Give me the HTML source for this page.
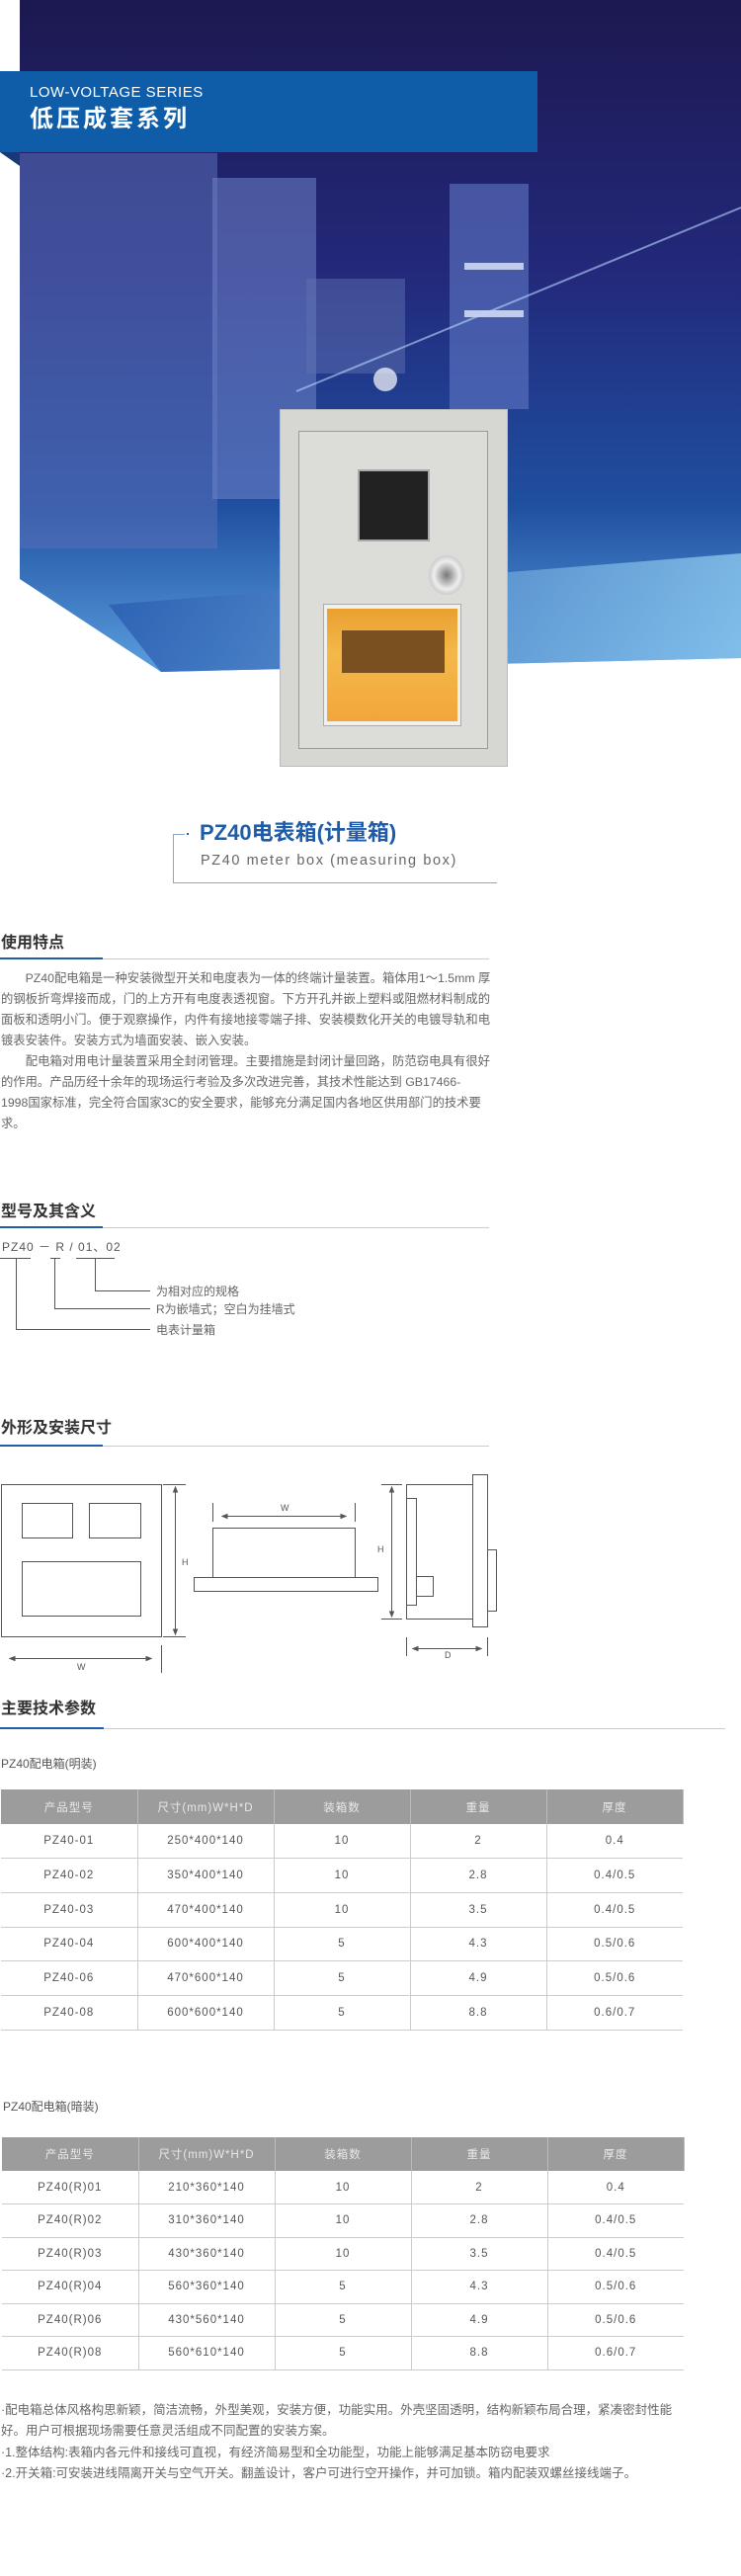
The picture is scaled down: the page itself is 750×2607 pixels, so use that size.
<!DOCTYPE html>
<html><head><meta charset="utf-8">
<style>
*{margin:0;padding:0;box-sizing:border-box}
body{width:750px;height:2607px;background:#fff;position:relative;overflow:hidden;font-family:"Liberation Sans","Noto Sans CJK SC",sans-serif;color:#666}
.a{position:absolute}
.h{position:absolute;left:1px;font-size:16px;font-weight:bold;color:#333;line-height:20px}
.ul{position:absolute;left:0;height:1px;background:#ccc}
.ub{position:absolute;left:0;height:2px;background:#1f5fa8}
.p{position:absolute;left:1px;width:495px;font-size:12.3px;line-height:21px;color:#666}
.p div{text-align:justify;text-align-last:justify;white-space:nowrap;height:21px}
.p div.l{text-align-last:left}
table{position:absolute;border-collapse:collapse;font-size:11.5px;color:#555;letter-spacing:1px}
td{width:138px;text-align:center;border-bottom:1px solid #ccc;border-right:1px solid #ccc;height:34.7px;padding:0}
td:last-child{border-right:none}
tr.hd td{background:#9c9c9c;color:#e8e8e8;border-right:1px solid #bbb;border-bottom:none;height:35px}
.t2 td{height:33.5px}
.t2 tr.hd td{height:34px}
.ln{position:absolute;background:#555}
</style></head><body>

<!-- hero -->
<svg class="a" style="left:0;top:0" width="750" height="690">
<defs>
<linearGradient id="g" x1="0" y1="0" x2="0" y2="1">
<stop offset="0" stop-color="#1c1850"/><stop offset="0.4" stop-color="#23287a"/><stop offset="0.75" stop-color="#1f4fa0"/><stop offset="1" stop-color="#5a9ede"/></linearGradient>
<linearGradient id="g2" x1="0" y1="0" x2="1" y2="0"><stop offset="0" stop-color="#2a5cb0"/><stop offset="1" stop-color="#8cc8ee"/></linearGradient>
</defs>
<polygon points="20,0 750,0 750,666 163,680 20,586" fill="url(#g)"/>
<polygon points="110,612 750,560 750,666 163,680" fill="url(#g2)" opacity="0.8"/>
<rect x="20" y="155" width="200" height="400" fill="#5a6fb8" opacity="0.55"/>
<rect x="215" y="180" width="105" height="325" fill="#6f83c8" opacity="0.55"/>
<rect x="310" y="282" width="100" height="96" fill="#5d70b0" opacity="0.5"/>
<rect x="455" y="186" width="80" height="228" fill="#5f78c4" opacity="0.6"/>
<rect x="470" y="266" width="60" height="7" fill="#e0e8ff" opacity="0.8"/>
<rect x="470" y="314" width="60" height="7" fill="#e0e8ff" opacity="0.8"/>
<line x1="300" y1="396" x2="750" y2="210" stroke="#b8d8ff" stroke-width="2" opacity="0.6"/>
<circle cx="390" cy="384" r="12" fill="#fff" opacity="0.7"/>
<polygon points="0,154 20,154 20,168" fill="#163a78"/>
</svg>
<div class="a" style="left:0;top:72px;width:544px;height:82px;background:#0f5da8"></div>
<div class="a" style="left:30px;top:85px;font-size:15px;color:#fff;letter-spacing:0.5px">LOW-VOLTAGE SERIES</div>
<div class="a" style="left:30px;top:105px;font-size:24px;font-weight:bold;color:#fff;letter-spacing:3px;line-height:32px">低压成套系列</div>

<!-- meter box -->
<div class="a" style="left:283px;top:414px;width:231px;height:362px;background:#d6d6d3;border:1px solid #bbb"></div>
<div class="a" style="left:302px;top:436px;width:192px;height:322px;background:#dcdcd9;border:1px solid #999"></div>
<div class="a" style="left:362px;top:475px;width:73px;height:73px;background:#222;border:2px solid #aaa"></div>
<div class="a" style="left:434px;top:562px;width:36px;height:40px;border-radius:50%;background:radial-gradient(#777,#eee 50%,#999)"></div>
<div class="a" style="left:327px;top:611px;width:140px;height:124px;background:#f0f0ee;border:1px solid #aaa"></div>
<div class="a" style="left:331px;top:616px;width:132px;height:114px;background:linear-gradient(#e9a030,#f4b84a 40%,#f2a63a)"></div>
<div class="a" style="left:346px;top:638px;width:104px;height:43px;background:#7a5020"></div>

<!-- title -->
<div class="a" style="left:175px;top:844px;width:1px;height:49px;background:#8aa8c8"></div>
<div class="a" style="left:175px;top:893px;width:328px;height:1px;background:#8aa8c8"></div>
<div class="a" style="left:175px;top:844px;width:12px;height:1px;background:#8aa8c8"></div>
<div class="a" style="left:189px;top:843px;width:2px;height:2px;background:#1f5fa8"></div>
<div class="a" style="left:202px;top:828px;font-size:22px;font-weight:bold;color:#1f5ca8;line-height:30px">PZ40电表箱(计量箱)</div>
<div class="a" style="left:203px;top:861px;font-size:14.5px;color:#666;letter-spacing:1.6px;line-height:20px">PZ40 meter box (measuring box)</div>

<!-- 使用特点 -->
<div class="h" style="top:945px">使用特点</div>
<div class="ul" style="top:970px;width:495px"></div><div class="ub" style="top:969px;width:104px"></div>
<div class="p" style="top:980px">
<div>　　PZ40配电箱是一种安装微型开关和电度表为一体的终端计量装置。箱体用1～1.5mm 厚</div>
<div>的钢板折弯焊接而成，门的上方开有电度表透视窗。下方开孔并嵌上塑料或阻燃材料制成的</div>
<div>面板和透明小门。便于观察操作，内件有接地接零端子排、安装模数化开关的电镀导轨和电</div>
<div class="l">镀表安装件。安装方式为墙面安装、嵌入安装。</div>
<div>　　配电箱对用电计量装置采用全封闭管理。主要措施是封闭计量回路，防范窃电具有很好</div>
<div class="l">的作用。产品历经十余年的现场运行考验及多次改进完善，其技术性能达到 GB17466-</div>
<div class="l">1998国家标准，完全符合国家3C的安全要求，能够充分满足国内各地区供用部门的技术要</div>
<div class="l">求。</div>
</div>

<!-- 型号及其含义 -->
<div class="h" style="top:1217px">型号及其含义</div>
<div class="ul" style="top:1242px;width:495px"></div><div class="ub" style="top:1241px;width:104px"></div>
<div class="a" style="left:2px;top:1253px;font-size:12px;color:#555;letter-spacing:1px">PZ40 － R / 01、02</div>
<div class="ln" style="left:0;top:1273px;width:31px;height:1px"></div>
<div class="ln" style="left:51px;top:1273px;width:10px;height:1px"></div>
<div class="ln" style="left:77px;top:1273px;width:39px;height:1px"></div>
<div class="ln" style="left:96px;top:1273px;width:1px;height:33px"></div>
<div class="ln" style="left:96px;top:1306px;width:56px;height:1px"></div>
<div class="ln" style="left:55px;top:1273px;width:1px;height:51px"></div>
<div class="ln" style="left:55px;top:1324px;width:97px;height:1px"></div>
<div class="ln" style="left:16px;top:1273px;width:1px;height:72px"></div>
<div class="ln" style="left:16px;top:1345px;width:136px;height:1px"></div>
<div class="a" style="left:158px;top:1298px;font-size:12px;color:#666">为相对应的规格</div>
<div class="a" style="left:158px;top:1316px;font-size:12px;color:#666">R为嵌墙式；空白为挂墙式</div>
<div class="a" style="left:158px;top:1337px;font-size:12px;color:#666">电表计量箱</div>

<!-- 外形及安装尺寸 -->
<div class="h" style="top:1436px">外形及安装尺寸</div>
<div class="ul" style="top:1463px;width:495px"></div><div class="ub" style="top:1462px;width:104px"></div>
<svg class="a" style="left:0;top:1480px" width="520" height="220" fill="none" stroke="#555" stroke-width="1" font-family="Liberation Sans" font-size="9">
<rect x="1.5" y="22.5" width="162" height="154"/>
<rect x="22.5" y="41.5" width="51" height="35"/>
<rect x="90.5" y="41.5" width="52" height="35"/>
<rect x="22.5" y="100.5" width="120" height="55"/>
<line x1="165" y1="22.5" x2="188" y2="22.5"/><line x1="165" y1="176.5" x2="188" y2="176.5"/>
<line x1="177.5" y1="25" x2="177.5" y2="174"/>
<polygon points="177.5,25 175.5,30 179.5,30" fill="#555"/><polygon points="177.5,174 175.5,169 179.5,169" fill="#555"/>
<text x="184" y="104" fill="#555" stroke="none">H</text>
<line x1="10" y1="198.5" x2="153" y2="198.5"/>
<polygon points="10,198.5 15,196.5 15,200.5" fill="#555"/><polygon points="153,198.5 148,196.5 148,200.5" fill="#555"/>
<line x1="163.5" y1="185" x2="163.5" y2="213"/>
<text x="78" y="210" fill="#555" stroke="none">W</text>
<rect x="215.5" y="66.5" width="144" height="50"/>
<rect x="196.5" y="116.5" width="186" height="14"/>
<line x1="215.5" y1="41" x2="215.5" y2="60"/><line x1="359.5" y1="41" x2="359.5" y2="60"/>
<line x1="225" y1="54.5" x2="350" y2="54.5"/>
<polygon points="225,54.5 230,52.5 230,56.5" fill="#555"/><polygon points="350,54.5 345,52.5 345,56.5" fill="#555"/>
<text x="284" y="49" fill="#555" stroke="none">W</text>
<line x1="386" y1="22.5" x2="407" y2="22.5"/><line x1="386" y1="158.5" x2="407" y2="158.5"/>
<line x1="396.5" y1="25" x2="396.5" y2="156"/>
<polygon points="396.5,25 394.5,30 398.5,30" fill="#555"/><polygon points="396.5,156 394.5,151 398.5,151" fill="#555"/>
<text x="382" y="91" fill="#555" stroke="none">H</text>
<rect x="411.5" y="22.5" width="67" height="136"/>
<rect x="411.5" y="36.5" width="10" height="108"/>
<rect x="421.5" y="115.5" width="17" height="20"/>
<rect x="478.5" y="12.5" width="15" height="154"/>
<rect x="493.5" y="88.5" width="9" height="62"/>
<line x1="411.5" y1="177" x2="411.5" y2="196"/><line x1="493.5" y1="177" x2="493.5" y2="196"/>
<line x1="418" y1="188.5" x2="487" y2="188.5"/>
<polygon points="418,188.5 423,186.5 423,190.5" fill="#555"/><polygon points="487,188.5 482,186.5 482,190.5" fill="#555"/>
<text x="450" y="198" fill="#555" stroke="none">D</text>
</svg>

<!-- 主要技术参数 -->
<div class="h" style="top:1720px">主要技术参数</div>
<div class="ul" style="top:1749px;width:734px"></div><div class="ub" style="top:1748px;width:105px"></div>
<div class="a" style="left:1px;top:1776px;font-size:12px;color:#555">PZ40配电箱(明装)</div>
<table style="left:1px;top:1811px">
<tr class="hd"><td>产品型号</td><td>尺寸(mm)W*H*D</td><td>装箱数</td><td>重量</td><td>厚度</td></tr>
<tr><td>PZ40-01</td><td>250*400*140</td><td>10</td><td>2</td><td>0.4</td></tr>
<tr><td>PZ40-02</td><td>350*400*140</td><td>10</td><td>2.8</td><td>0.4/0.5</td></tr>
<tr><td>PZ40-03</td><td>470*400*140</td><td>10</td><td>3.5</td><td>0.4/0.5</td></tr>
<tr><td>PZ40-04</td><td>600*400*140</td><td>5</td><td>4.3</td><td>0.5/0.6</td></tr>
<tr><td>PZ40-06</td><td>470*600*140</td><td>5</td><td>4.9</td><td>0.5/0.6</td></tr>
<tr><td>PZ40-08</td><td>600*600*140</td><td>5</td><td>8.8</td><td>0.6/0.7</td></tr>
</table>
<div class="a" style="left:3px;top:2123px;font-size:12px;color:#555">PZ40配电箱(暗装)</div>
<table class="t2" style="left:2px;top:2163px">
<tr class="hd"><td>产品型号</td><td>尺寸(mm)W*H*D</td><td>装箱数</td><td>重量</td><td>厚度</td></tr>
<tr><td>PZ40(R)01</td><td>210*360*140</td><td>10</td><td>2</td><td>0.4</td></tr>
<tr><td>PZ40(R)02</td><td>310*360*140</td><td>10</td><td>2.8</td><td>0.4/0.5</td></tr>
<tr><td>PZ40(R)03</td><td>430*360*140</td><td>10</td><td>3.5</td><td>0.4/0.5</td></tr>
<tr><td>PZ40(R)04</td><td>560*360*140</td><td>5</td><td>4.3</td><td>0.5/0.6</td></tr>
<tr><td>PZ40(R)06</td><td>430*560*140</td><td>5</td><td>4.9</td><td>0.5/0.6</td></tr>
<tr><td>PZ40(R)08</td><td>560*610*140</td><td>5</td><td>8.8</td><td>0.6/0.7</td></tr>
</table>
<div class="a" style="left:1px;top:2429px;width:690px;font-size:12.5px;line-height:21.3px;color:#666">
<div style="white-space:nowrap">·配电箱总体风格构思新颖，简洁流畅，外型美观，安装方便，功能实用。外壳坚固透明，结构新颖布局合理，紧凑密封性能</div>
<div>好。用户可根据现场需要任意灵活组成不同配置的安装方案。</div>
<div>·1.整体结构:表箱内各元件和接线可直视，有经济简易型和全功能型，功能上能够满足基本防窃电要求</div>
<div>·2.开关箱:可安装进线隔离开关与空气开关。翻盖设计，客户可进行空开操作，并可加锁。箱内配装双螺丝接线端子。</div>
</div>
</body></html>
